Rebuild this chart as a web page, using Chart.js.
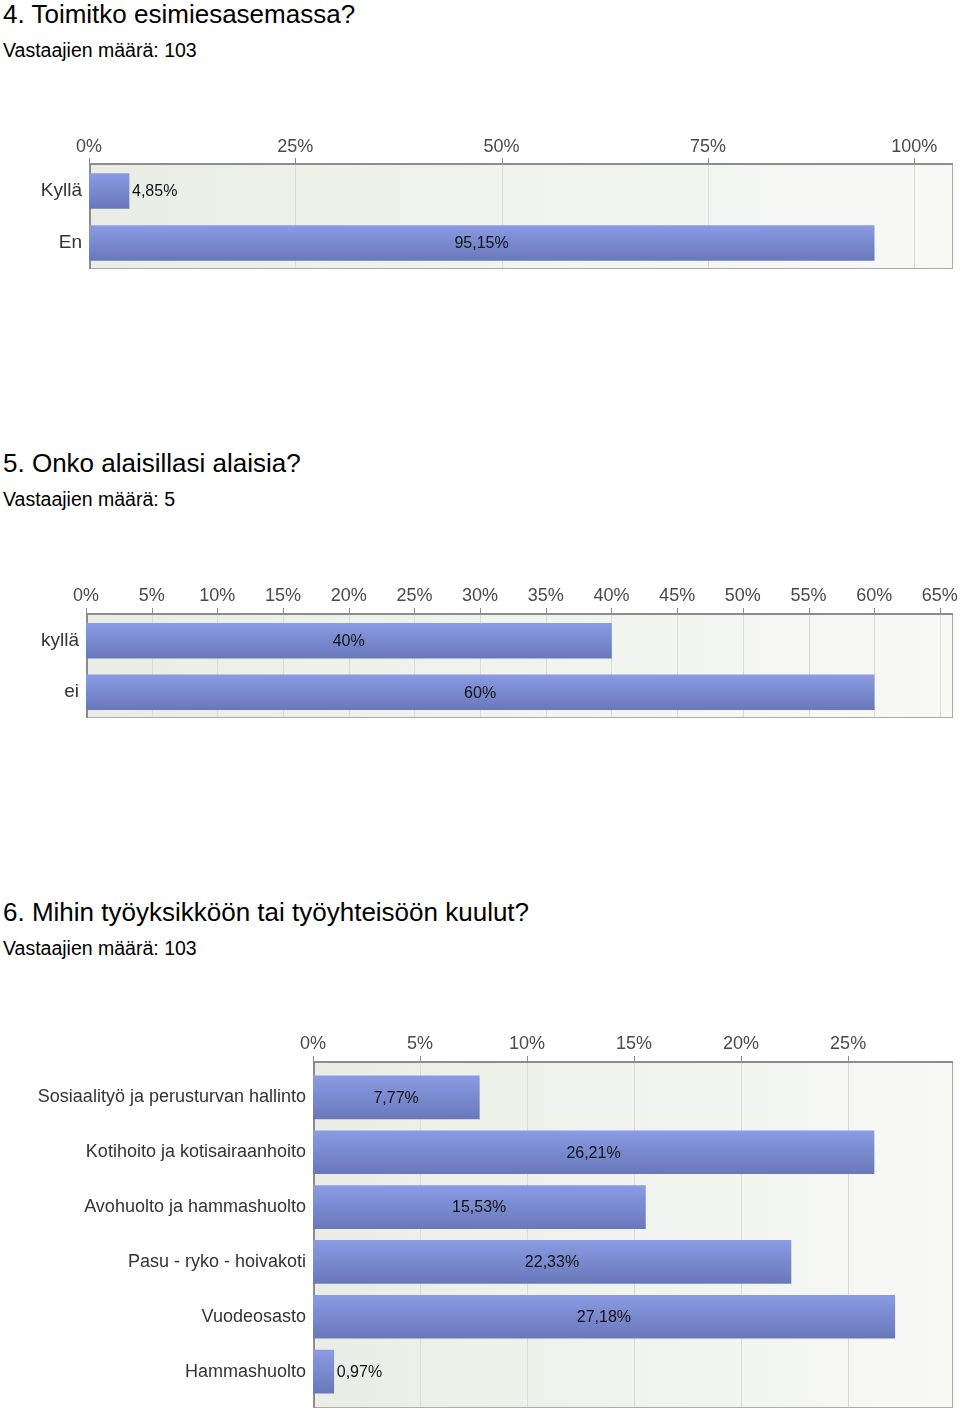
<!DOCTYPE html>
<html lang="fi">
<head>
    <meta charset="UTF-8">
    <title>Kysely - tulokset</title>
    <script src="https://cdn.jsdelivr.net/npm/chart.js@4"></script>
    <style>
        body {
            margin: 0;
            background: #fff;
            font-family: 'Liberation Sans', Arial, sans-serif;
            width: 960px;
            height: 1414px;
            position: relative;
            overflow: hidden;
        }
        .title {
            position: absolute;
            left: 3px;
            font-size: 26px;
            line-height: 1;
            color: #000;
            white-space: nowrap;
        }
        .sub {
            position: absolute;
            left: 3px;
            font-size: 19.5px;
            line-height: 1;
            color: #000;
            white-space: nowrap;
        }
        canvas {
            position: absolute;
            left: 0;
        }
    </style>
</head>
<body>
    <div class="title" style="top:1px">4. Toimitko esimiesasemassa?</div>
    <div class="sub" style="top:41px">Vastaajien määrä: 103</div>
    <canvas id="chart1" width="960" height="170" style="top:120px"></canvas>

    <div class="title" style="top:450px">5. Onko alaisillasi alaisia?</div>
    <div class="sub" style="top:490px">Vastaajien määrä: 5</div>
    <canvas id="chart2" width="960" height="170" style="top:570px"></canvas>

    <div class="title" style="top:899px">6. Mihin työyksikköön tai työyhteisöön kuulut?</div>
    <div class="sub" style="top:939px">Vastaajien määrä: 103</div>
    <canvas id="chart3" width="960" height="399" style="top:1015px"></canvas>

    <script>
        // Data
        const q4Labels = ['Kyllä', 'En'];
        const q4Values = [4.85, 95.15];
        const q4Ticks = [0, 25, 50, 75, 100];

        const q5Labels = ['kyllä', 'ei'];
        const q5Values = [40, 60];
        const q5Ticks = [0, 5, 10, 15, 20, 25, 30, 35, 40, 45, 50, 55, 60, 65];

        const q6Labels = [
            'Sosiaalityö ja perusturvan hallinto',
            'Kotihoito ja kotisairaanhoito',
            'Avohuolto ja hammashuolto',
            'Pasu - ryko - hoivakoti',
            'Vuodeosasto',
            'Hammashuolto'
        ];
        const q6Values = [7.77, 26.21, 15.53, 22.33, 27.18, 0.97];
        const q6Ticks = [0, 5, 10, 15, 20, 25];

        const FONT = "'Liberation Sans', Arial, sans-serif";

        function fmt(v, decimals) {
            return v.toFixed(decimals).replace('.', ',') + '%';
        }

        // plot background, grid lines, tick marks and border
        const framePlugin = {
            id: 'frame',
            beforeDatasetsDraw(chart, args, opts) {
                const ctx = chart.ctx;
                const a = chart.chartArea;
                const x = chart.scales.x;
                const top = a.top - (opts.padTop || 0);
                const bottom = a.bottom + (opts.padBottom || 0);
                ctx.save();
                const g = ctx.createLinearGradient(a.left, 0, a.right, 0);
                g.addColorStop(0, '#eaede5');
                g.addColorStop(1, '#f8f9f7');
                ctx.fillStyle = g;
                ctx.fillRect(a.left, top, a.right - a.left, bottom - top);

                ctx.lineWidth = 1;
                x.ticks.forEach(t => {
                    const px = Math.round(x.getPixelForValue(t.value)) + 0.5;
                    ctx.strokeStyle = '#dadcd7';
                    ctx.beginPath();
                    ctx.moveTo(px, top);
                    ctx.lineTo(px, bottom);
                    ctx.stroke();
                    ctx.strokeStyle = '#8c8c8c';
                    ctx.beginPath();
                    ctx.moveTo(px, top - 5);
                    ctx.lineTo(px, top);
                    ctx.stroke();
                });

                ctx.strokeStyle = '#ababab';
                ctx.strokeRect(a.left + 0.5, top + 0.5, a.right - a.left - 1, bottom - top - 1);
                ctx.strokeStyle = '#8c8c8c';
                ctx.lineWidth = 2;
                ctx.beginPath();
                ctx.moveTo(a.left + 1, bottom);
                ctx.lineTo(a.left + 1, top + 1);
                ctx.lineTo(a.right, top + 1);
                ctx.stroke();
                ctx.restore();
            }
        };

        // percentage labels on the bars
        const valuePlugin = {
            id: 'values',
            afterDatasetsDraw(chart, args, opts) {
                const ctx = chart.ctx;
                const meta = chart.getDatasetMeta(0);
                const data = chart.data.datasets[0].data;
                ctx.save();
                ctx.font = '16px ' + FONT;
                ctx.fillStyle = '#111';
                ctx.textBaseline = 'middle';
                meta.data.forEach((bar, i) => {
                    const txt = fmt(data[i], opts.decimals);
                    const w = ctx.measureText(txt).width;
                    const len = bar.x - bar.base;
                    if (w + 12 < len) {
                        ctx.textAlign = 'center';
                        ctx.fillText(txt, (bar.x + bar.base) / 2, bar.y + 1);
                    } else {
                        ctx.textAlign = 'left';
                        ctx.fillText(txt, bar.x + 3, bar.y + 1);
                    }
                });
                ctx.restore();
            }
        };

        function barGradient(c, thickness) {
            const chart = c.chart;
            const y = chart.scales.y;
            if (!chart.chartArea || !y || c.dataIndex === undefined) return '#7a88cc';
            const cy = y.getPixelForValue(c.dataIndex);
            const g = chart.ctx.createLinearGradient(0, cy - thickness / 2, 0, cy + thickness / 2);
            g.addColorStop(0, '#8a9be3');
            g.addColorStop(1, '#6978ba');
            return g;
        }

        function makeChart(id, labels, values, ticks, cfg) {
            new Chart(document.getElementById(id), {
                type: 'bar',
                data: {
                    labels: labels,
                    datasets: [{
                        data: values,
                        barThickness: cfg.thickness,
                        backgroundColor: c => barGradient(c, cfg.thickness),
                        borderWidth: 0
                    }]
                },
                options: {
                    indexAxis: 'y',
                    responsive: false,
                    animation: false,
                    layout: { padding: { left: 0, right: 7, top: 0, bottom: cfg.bottomPad } },
                    plugins: {
                        legend: { display: false },
                        tooltip: { enabled: false },
                        frame: { padTop: cfg.padTop, padBottom: cfg.padBottom },
                        values: { decimals: cfg.decimals }
                    },
                    scales: {
                        x: {
                            type: 'linear',
                            position: 'top',
                            min: 0,
                            max: cfg.max,
                            grid: { display: false, drawTicks: false },
                            border: { display: false },
                            afterBuildTicks: axis => { axis.ticks = ticks.map(v => ({ value: v })); },
                            afterFit: axis => {
                                axis.height = cfg.axisHeight;
                                axis.paddingLeft = 0;
                                axis.paddingRight = 0;
                            },
                            ticks: {
                                autoSkip: false,
                                maxRotation: 0,
                                padding: cfg.tickPad,
                                color: '#4a4a4a',
                                font: { family: FONT, size: 18 },
                                callback: v => v + '%'
                            }
                        },
                        y: {
                            grid: { display: false, drawTicks: false },
                            border: { display: false },
                            afterFit: axis => {
                                axis.width = cfg.left;
                                axis.paddingTop = 0;
                                axis.paddingBottom = 0;
                            },
                            ticks: {
                                padding: 7,
                                color: '#333',
                                font: { family: FONT, size: cfg.labelSize }
                            }
                        }
                    }
                },
                plugins: [framePlugin, valuePlugin]
            });
        }

        makeChart('chart1', q4Labels, q4Values, q4Ticks, {
            max: 104.7, thickness: 35, decimals: 2, left: 89, axisHeight: 45,
            tickPad: 7, bottomPad: 21, padTop: 2, padBottom: 0, labelSize: 19
        });
        makeChart('chart2', q5Labels, q5Values, q5Ticks, {
            max: 66, thickness: 35, decimals: 0, left: 86, axisHeight: 45,
            tickPad: 8, bottomPad: 22, padTop: 2, padBottom: 0, labelSize: 19
        });
        makeChart('chart3', q6Labels, q6Values, q6Ticks, {
            max: 29.9, thickness: 43, decimals: 2, left: 313, axisHeight: 55,
            tickPad: 15, bottomPad: 15, padTop: 9, padBottom: 9, labelSize: 18
        });
    </script>
</body>
</html>
